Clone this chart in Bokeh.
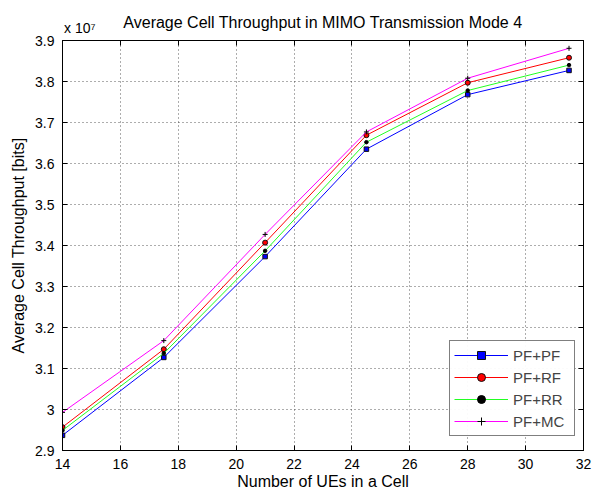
from bokeh.plotting import figure
from bokeh.models import (LinearAxis, FixedTicker, CustomJSTickFormatter, Legend,
                          LegendItem, Range1d)
from bokeh.embed import file_html
from bokeh.resources import INLINE

# ---- data ----
ues = [14, 17.5, 21, 24.5, 28, 31.5]
pf_pf = [2.937e7, 3.127e7, 3.373e7, 3.635e7, 3.768e7, 3.827e7]
pf_rf = [2.957e7, 3.147e7, 3.407e7, 3.669e7, 3.797e7, 3.858e7]
pf_rr = [2.949e7, 3.137e7, 3.387e7, 3.652e7, 3.778e7, 3.840e7]
pf_mc = [2.993e7, 3.168e7, 3.427e7, 3.677e7, 3.808e7, 3.881e7]
series_names = ["PF+PF", "PF+RF", "PF+RR", "PF+MC"]
x_ticks = [14, 16, 18, 20, 22, 24, 26, 28, 30, 32]
y_ticks = [2.9e7, 3.0e7, 3.1e7, 3.2e7, 3.3e7, 3.4e7, 3.5e7, 3.6e7, 3.7e7, 3.8e7, 3.9e7]
x_min, x_max = 14, 32
y_min, y_max = 2.9e7, 3.9e7
title_text = "Average Cell Throughput in MIMO Transmission Mode 4"
exp_text = "x 10\u2077"
exp_anchor = [14.6]          # x position (data) at which the exponent note is centred
x_label = "Number of UEs in a Cell"
y_label = "Average Cell Throughput [bits]"

FONT = "Liberation Sans"
W, H = 593, 494
ML, MR, MT, MB = 62, 10, 40, 44

p = figure(width=W, height=H, output_backend="svg", toolbar_location=None,
           x_range=Range1d(x_min, x_max), y_range=Range1d(y_min, y_max),
           min_border_left=ML, min_border_right=MR, min_border_top=MT, min_border_bottom=MB,
           x_axis_label=x_label, y_axis_label=y_label)
p.background_fill_color = "white"
p.border_fill_color = "white"
p.outline_line_color = "black"
p.outline_line_width = 1
p.outline_line_alpha = 1

fmt = CustomJSTickFormatter(code="return String(Number((tick/1e7).toFixed(1)));")

for ax, ticks in ((p.xaxis[0], x_ticks), (p.yaxis[0], y_ticks)):
    ax.ticker = FixedTicker(ticks=ticks)
    ax.major_tick_in = 5
    ax.major_tick_out = 0
    ax.minor_tick_line_color = None
    ax.axis_line_color = "black"
    ax.major_tick_line_color = "black"
    ax.major_label_text_font = FONT
    ax.major_label_text_font_size = "14px"
    ax.major_label_text_color = "black"
    ax.axis_label_text_font = FONT
    ax.axis_label_text_font_size = "16px"
    ax.axis_label_text_font_style = "normal"
    ax.axis_label_text_color = "black"
p.yaxis[0].formatter = fmt
p.xaxis[0].major_label_standoff = 8
p.xaxis[0].axis_label_standoff = 1
p.yaxis[0].major_label_standoff = 8
p.yaxis[0].axis_label_standoff = 5

right_ax = LinearAxis(ticker=FixedTicker(ticks=y_ticks), major_tick_in=5, major_tick_out=0,
                      minor_tick_line_color=None, axis_line_color="black",
                      major_label_text_font_size="1px", major_label_text_color=None,
                      major_label_standoff=0)
p.add_layout(right_ax, "right")
top_ax = LinearAxis(ticker=FixedTicker(ticks=x_ticks), major_tick_in=5, major_tick_out=0,
                    minor_tick_line_color=None, axis_line_color="black",
                    major_label_text_font_size="1px", major_label_text_color=None,
                    major_label_standoff=0)
p.add_layout(top_ax, "above")

# exponent note (as a single top label) and the title (as that axis' label)
exp_fmt = CustomJSTickFormatter(args=dict(txt=exp_text), code="return txt;")
note_ax = LinearAxis(ticker=FixedTicker(ticks=exp_anchor), formatter=exp_fmt,
                     major_tick_in=0, major_tick_out=0, major_tick_line_color=None,
                     minor_tick_line_color=None, axis_line_color=None,
                     major_label_standoff=5, major_label_text_font=FONT,
                     major_label_text_font_size="14px", major_label_text_color="black",
                     axis_label=title_text, axis_label_standoff=-14,
                     axis_label_text_font=FONT, axis_label_text_font_size="16px",
                     axis_label_text_font_style="normal", axis_label_text_color="black")
p.add_layout(note_ax, "above")

for g, ticks in ((p.xgrid[0], x_ticks), (p.ygrid[0], y_ticks)):
    g.ticker = FixedTicker(ticks=ticks)
    g.grid_line_color = "#333333"
    g.grid_line_dash = "1 3"
    g.grid_line_width = 1
    g.grid_line_alpha = 0.8

# series
l1 = p.line(ues, pf_pf, line_color="#0000ff", line_width=1)
s1 = p.scatter(ues, pf_pf, marker="square", size=4.5, fill_color="#0000ff", line_color="#111111")
l2 = p.line(ues, pf_rf, line_color="#ff0000", line_width=1)
s2 = p.scatter(ues, pf_rf, marker="circle", size=5, fill_color="#ff0000", line_color="#111111")
l3 = p.line(ues, pf_rr, line_color="#22ff22", line_width=1)
s3 = p.scatter(ues, pf_rr, marker="circle", size=3.5, fill_color="black", line_color="black")
l4 = p.line(ues, pf_mc, line_color="#ff00ff", line_width=1)
s4 = p.scatter(ues, pf_mc, marker="cross", size=5, line_color="black", line_width=1)

legend = Legend(items=[LegendItem(label=series_names[0], renderers=[l1, s1]),
                       LegendItem(label=series_names[1], renderers=[l2, s2]),
                       LegendItem(label=series_names[2], renderers=[l3, s3]),
                       LegendItem(label=series_names[3], renderers=[l4, s4])],
                location=(387, 14), label_text_font=FONT, label_text_font_size="15px",
                glyph_width=54, glyph_height=20, label_height=20, spacing=2, padding=4,
                label_standoff=5, label_width=57, border_line_color="black",
                border_line_width=1, background_fill_color="white", margin=0)
p.add_layout(legend, "center")

open("out.html", "w").write(file_html(p, INLINE))
